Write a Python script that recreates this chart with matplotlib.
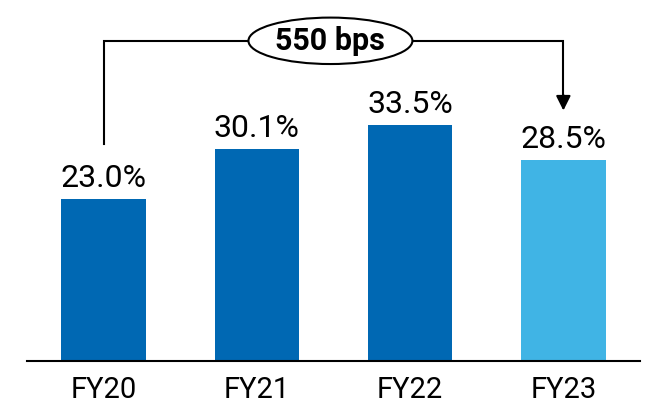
import matplotlib.pyplot as plt
from matplotlib.patches import Ellipse

plt.rcParams['font.family'] = ['Roboto', 'DejaVu Sans']

years = ['FY20', 'FY21', 'FY22', 'FY23']
margins = [23.0, 30.1, 33.5, 28.5]
labels = ['23.0%', '30.1%', '33.5%', '28.5%']
colors = ['#0068b3', '#0068b3', '#0068b3', '#40b4e5']
change_label = '550 bps'

fig = plt.figure(figsize=(6.46, 4.07), dpi=100)
ax = fig.add_axes([27 / 646, 46 / 407, 613 / 646, 361 / 407])

x = range(len(years))
ax.bar(x, margins, width=0.55, color=colors)
for xi, v, lab in zip(x, margins, labels):
    ax.text(xi, v + 1.7, lab, ha='center', va='baseline', fontsize=23)

ax.set_xlim(-0.5, 3.5)
ax.set_ylim(0, 51.3)
ax.set_xticks(list(x))
ax.set_xticklabels(years, fontsize=21)
ax.tick_params(axis='x', length=0, pad=11)
ax.set_yticks([])
for s in ['top', 'right', 'left']:
    ax.spines[s].set_visible(False)
ax.spines['bottom'].set_linewidth(1.5)

# bracket from first to last bar
y_top = 45.5
ax.plot([0, 0, 3, 3], [30.8, y_top, y_top, 37.5], color='black', lw=1.5,
        solid_joinstyle='miter')
ax.annotate('', xy=(3, 35.6), xytext=(3, 37.8),
            arrowprops=dict(arrowstyle='-|>', color='black', lw=1.5,
                            mutation_scale=22, shrinkA=0, shrinkB=0))
ax.add_patch(Ellipse((1.48, y_top), 1.07, 6.6, facecolor='white',
                     edgecolor='black', lw=1.5, zorder=3))
ax.text(1.48, y_top, change_label, ha='center', va='center', fontsize=22,
        fontweight='bold', zorder=4)

fig.savefig('out.png', dpi=100)
